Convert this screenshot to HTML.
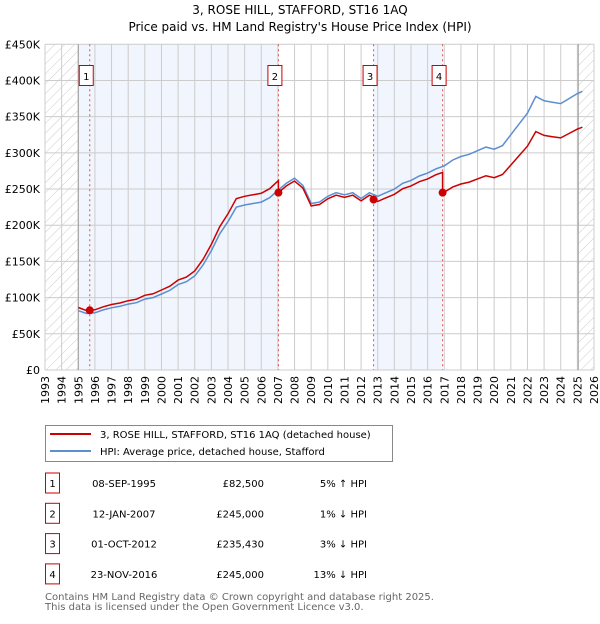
<!DOCTYPE html>
<html><head><meta charset="utf-8"><style>
body{margin:0;background:#fff;width:600px;height:620px;overflow:hidden;font-family:"DejaVu Sans","Liberation Sans",sans-serif;}
svg text{font-family:"DejaVu Sans","Liberation Sans",sans-serif;}
</style></head><body>
<svg id="chart" width="600" height="620" viewBox="0 0 600 620" xmlns="http://www.w3.org/2000/svg">
<defs><pattern id="hatch" width="7" height="7" patternUnits="userSpaceOnUse" patternTransform="rotate(45)"><line x1="0" y1="0" x2="0" y2="7" stroke="#ccc" stroke-width="1"/></pattern></defs>
<text x="300" y="14" text-anchor="middle" font-size="12">3, ROSE HILL, STAFFORD, ST16 1AQ</text>
<text x="300" y="31" text-anchor="middle" font-size="12">Price paid vs. HM Land Registry's House Price Index (HPI)</text>
<g id="plot"></g>
<g>
<rect x="45.5" y="425.5" width="347" height="36" fill="#fff" stroke="#888"/>
<line x1="50" y1="434" x2="91" y2="434" stroke="#cc0000" stroke-width="2"/>
<text x="100" y="438" font-size="10">3, ROSE HILL, STAFFORD, ST16 1AQ (detached house)</text>
<line x1="50" y1="451" x2="91" y2="451" stroke="#5b8fd0" stroke-width="2"/>
<text x="100" y="455" font-size="10">HPI: Average price, detached house, Stafford</text>
</g>
<g id="table" font-size="10"></g>
<text x="45" y="600" font-size="10" fill="#666">Contains HM Land Registry data © Crown copyright and database right 2025.</text>
<text x="45" y="610" font-size="10" fill="#666">This data is licensed under the Open Government Licence v3.0.</text>
</svg>
<script>
const hpiYears=[1995.0,1995.5,1996,1996.5,1997,1997.5,1998,1998.5,1999,1999.5,2000,2000.5,2001,2001.5,2002,2002.5,2003,2003.5,2004,2004.5,2005,2005.5,2006,2006.5,2007,2007.5,2008,2008.5,2009,2009.5,2010,2010.5,2011,2011.5,2012,2012.5,2013,2013.5,2014,2014.5,2015,2015.5,2016,2016.5,2017,2017.5,2018,2018.5,2019,2019.5,2020,2020.5,2021,2021.5,2022,2022.5,2023,2023.5,2024,2024.5,2025,2025.3];
const hpiValues=[82,78,79,83,86,88,91,93,98,100,105,110,118,122,130,145,165,188,205,225,228,230,232,238,248,258,265,255,230,232,240,245,242,245,237,245,240,245,250,258,262,268,272,278,282,290,295,298,303,308,305,310,325,340,355,378,372,370,368,375,382,385];
const saleDates=[1995.69,2007.03,2012.75,2016.9];
const salePrices=[82.5,245,235.43,245];
const saleLabels=["08-SEP-1995","12-JAN-2007","01-OCT-2012","23-NOV-2016"];
const salePriceText=["£82,500","£245,000","£235,430","£245,000"];
const saleHpiText=["5% ↑ HPI","1% ↓ HPI","3% ↓ HPI","13% ↓ HPI"];
const yTicks=[0,50,100,150,200,250,300,350,400,450];
const yTickLabels=["£0","£50K","£100K","£150K","£200K","£250K","£300K","£350K","£400K","£450K"];
const xTicks=[1993,1994,1995,1996,1997,1998,1999,2000,2001,2002,2003,2004,2005,2006,2007,2008,2009,2010,2011,2012,2013,2014,2015,2016,2017,2018,2019,2020,2021,2022,2023,2024,2025,2026];

const X0=45,X1=594,Y0=370,Y1=44.3;
const xs=y=>X0+(y-1993)/(2026-1993)*(X1-X0);
const ys=v=>Y0-v/450*(Y0-Y1);
const NS="http://www.w3.org/2000/svg";
function mk(tag,attrs,parent){const e=document.createElementNS(NS,tag);for(const k in attrs)e.setAttribute(k,attrs[k]);parent.appendChild(e);return e;}
function hpiAt(t){for(let i=0;i<hpiYears.length-1;i++){if(t<=hpiYears[i+1]){const f=(t-hpiYears[i])/(hpiYears[i+1]-hpiYears[i]);return hpiValues[i]+f*(hpiValues[i+1]-hpiValues[i]);}}return hpiValues[hpiValues.length-1];}
const plot=document.getElementById('plot');
let r=mk('rect',{x:xs(1995),y:Y1,width:xs(saleDates[1])-xs(1995),height:Y0-Y1,fill:'#eef3fc',opacity:0.8},plot);


r=mk('rect',{x:xs(saleDates[2]),y:Y1,width:xs(saleDates[3])-xs(saleDates[2]),height:Y0-Y1,fill:'#eef3fc',opacity:0.8},plot);


r=mk('rect',{x:X0,y:Y1,width:xs(1995)-X0,height:Y0-Y1,fill:'url(#hatch)'},plot);


r=mk('rect',{x:xs(2025.05),y:Y1,width:X1-xs(2025.05),height:Y0-Y1,fill:'url(#hatch)'},plot);


xTicks.forEach((t,i)=>{const l=mk('line',{x1:xs(t),x2:xs(t),y1:Y1,y2:Y0,stroke:'#ccc','stroke-width':1},plot);


const tx=mk('text',{x:0,y:0,'font-size':11,'text-anchor':'end',transform:`translate(${xs(t)+4},${Y0+6}) rotate(-90)`},plot);tx.textContent=t;

});
yTicks.forEach((v,i)=>{const l=mk('line',{x1:X0,x2:X1,y1:ys(v),y2:ys(v),stroke:'#ccc','stroke-width':1},plot);


const tx=mk('text',{x:40,y:ys(v)+4,'font-size':11,'text-anchor':'end'},plot);tx.textContent=yTickLabels[i];

});
let b=mk('line',{x1:xs(1995),x2:xs(1995),y1:Y1,y2:Y0,stroke:'#999','stroke-width':1},plot);


b=mk('line',{x1:xs(2025.05),x2:xs(2025.05),y1:Y1,y2:Y0,stroke:'#999','stroke-width':1},plot);


saleDates.forEach((d,i)=>{const l=mk('line',{x1:xs(d),x2:xs(d),y1:Y1,y2:Y0,stroke:'#e05050','stroke-width':1,'stroke-dasharray':'2,3'},plot);


const bx=mk('rect',{x:xs(d)-10.5,y:65.5,width:14,height:20,fill:'#fff',stroke:'#cc0000'},plot);


const tx=mk('text',{x:xs(d)-3.5,y:80,'font-size':10,'text-anchor':'middle'},plot);tx.textContent=i+1;

});
let pts=hpiYears.map((t,i)=>xs(t).toFixed(1)+','+ys(hpiValues[i]).toFixed(1)).join(' ');
let p=mk('polyline',{points:pts,fill:'none',stroke:'#5b8fd0','stroke-width':1.5},plot);


function priceAt(t){let k=0;for(let i=0;i<saleDates.length;i++)if(t>=saleDates[i])k=i;return salePrices[k]*hpiAt(t)/hpiAt(saleDates[k]);}
const ts=[...hpiYears];saleDates.forEach(d=>{ts.push(d-0.001);ts.push(d);});ts.sort((a,b)=>a-b);
pts=ts.map(t=>xs(t).toFixed(1)+','+ys(priceAt(t)).toFixed(1)).join(' ');
p=mk('polyline',{points:pts,fill:'none',stroke:'#cc0000','stroke-width':1.5},plot);


saleDates.forEach((d,i)=>{const c=mk('circle',{cx:xs(d),cy:ys(salePrices[i]),r:4,fill:'#cc0000'},plot);

});
const tb=document.getElementById('table');
saleDates.forEach((d,i)=>{const y=483+i*30.3;
const bx=mk('rect',{x:45.5,y:y-10,width:14,height:20,fill:'#fff',stroke:'#cc0000'},tb);


let t=mk('text',{x:52.5,y:y+4,'text-anchor':'middle'},tb);t.textContent=i+1;


t=mk('text',{x:124,y:y+4,'text-anchor':'middle'},tb);t.textContent=saleLabels[i];


t=mk('text',{x:264,y:y+4,'text-anchor':'end'},tb);t.textContent=salePriceText[i];


t=mk('text',{x:367,y:y+4,'text-anchor':'end'},tb);t.textContent=saleHpiText[i];

});
</script>
</body></html>
